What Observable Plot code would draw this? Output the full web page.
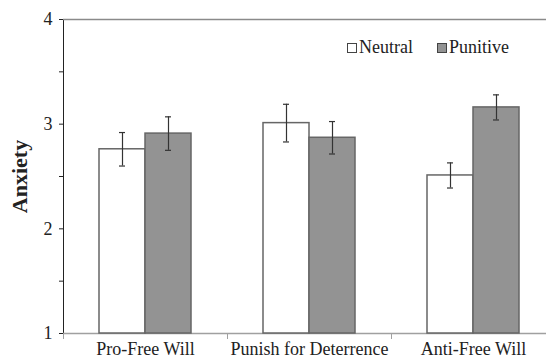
<!DOCTYPE html>
<html>
<head>
<meta charset="utf-8">
<script src="https://cdn.jsdelivr.net/npm/d3@7"></script>
<script src="https://cdn.jsdelivr.net/npm/@observablehq/plot@0.6"></script>
<style>
  html, body { margin: 0; padding: 0; background: white; }
  #wrap { position: relative; width: 546px; height: 360px; overflow: hidden; }
  #legend { position: absolute; top: 37px; left: 347px; font-family: "Liberation Serif", "Times New Roman", serif; font-size: 18px; color: #222; display: flex; gap: 24px; }
  #legend span.item { display: flex; align-items: center; }
  #legend span.sw { display: inline-block; width: 8px; height: 8px; border: 1px solid #444; margin-right: 2px; }
  svg.chart text { font-family: "Liberation Serif", "Times New Roman", serif; }
  [aria-label="y-axis label"] text, [aria-label="y-axis label"] { font-weight: bold; font-size: 22px; }
</style>
</head>
<body>
<div id="wrap"><div id="legend"></div></div>
<script>
const groups = ["Pro-Free Will", "Punish for Deterrence", "Anti-Free Will"];
const series = ["Neutral", "Punitive"];
const neutralMeans = [2.76, 3.01, 2.51];
const punitiveMeans = [2.91, 2.87, 3.16];
const neutralErr = [0.16, 0.18, 0.12];
const punitiveErr = [0.16, 0.155, 0.12];
const yTicks = [1, 1.5, 2, 2.5, 3, 3.5, 4];
const yLabels = [1, 2, 3, 4];
const colors = ["white", "#939393"];

const rows = [];
groups.forEach((g, i) => {
  rows.push({group: g, series: series[0], value: neutralMeans[i], err: neutralErr[i]});
  rows.push({group: g, series: series[1], value: punitiveMeans[i], err: punitiveErr[i]});
});

const chart = Plot.plot({
  className: "chart",
  width: 546,
  height: 360,
  marginTop: 19,
  marginBottom: 27,
  marginLeft: 63,
  marginRight: -9,
  style: {fontFamily: "'Liberation Serif', 'Times New Roman', serif", fontSize: "18px", color: "#222", background: "white"},
  fx: {domain: groups, padding: 0, label: null, tickSize: 0, tickPadding: 9},
  x: {domain: series, paddingInner: 0, paddingOuter: 0.745, axis: null},
  y: {domain: [1, 4], ticks: yTicks, tickFormat: d => yLabels.includes(d) ? String(d) : "", tickSize: 4, tickPadding: 7, line: true, label: "Anxiety", labelAnchor: "center", labelOffset: 52, labelArrow: false},
  color: {domain: series, range: colors},
  marks: [
    Plot.ruleY([4], {stroke: "#8a8a8a", strokeWidth: 1.5}),
    Plot.ruleY([1], {stroke: "#a0a0a0", strokeWidth: 1.5}),
    Plot.frame({anchor: "left", insetTop: 314, insetBottom: -5, stroke: "#a0a0a0"}),
    Plot.barY(rows, {fx: "group", x: "series", y1: 1, y2: "value", fill: "series", stroke: "#666", strokeWidth: 1.5}),
    Plot.ruleX(rows, {fx: "group", x: "series", y1: d => d.value - d.err, y2: d => d.value + d.err, stroke: "#333", strokeWidth: 1.2}),
    Plot.tickY(rows, {fx: "group", x: "series", y: d => d.value - d.err, stroke: "#333", strokeWidth: 1.2, insetLeft: 20, insetRight: 20}),
    Plot.tickY(rows, {fx: "group", x: "series", y: d => d.value + d.err, stroke: "#333", strokeWidth: 1.2, insetLeft: 20, insetRight: 20})
  ]
});
document.getElementById("wrap").prepend(chart);

const legend = document.getElementById("legend");
series.forEach((s, i) => {
  const item = document.createElement("span");
  item.className = "item";
  const sw = document.createElement("span");
  sw.className = "sw";
  sw.style.background = colors[i];
  item.appendChild(sw);
  item.appendChild(document.createTextNode(s));
  legend.appendChild(item);
});
</script>
</body>
</html>
